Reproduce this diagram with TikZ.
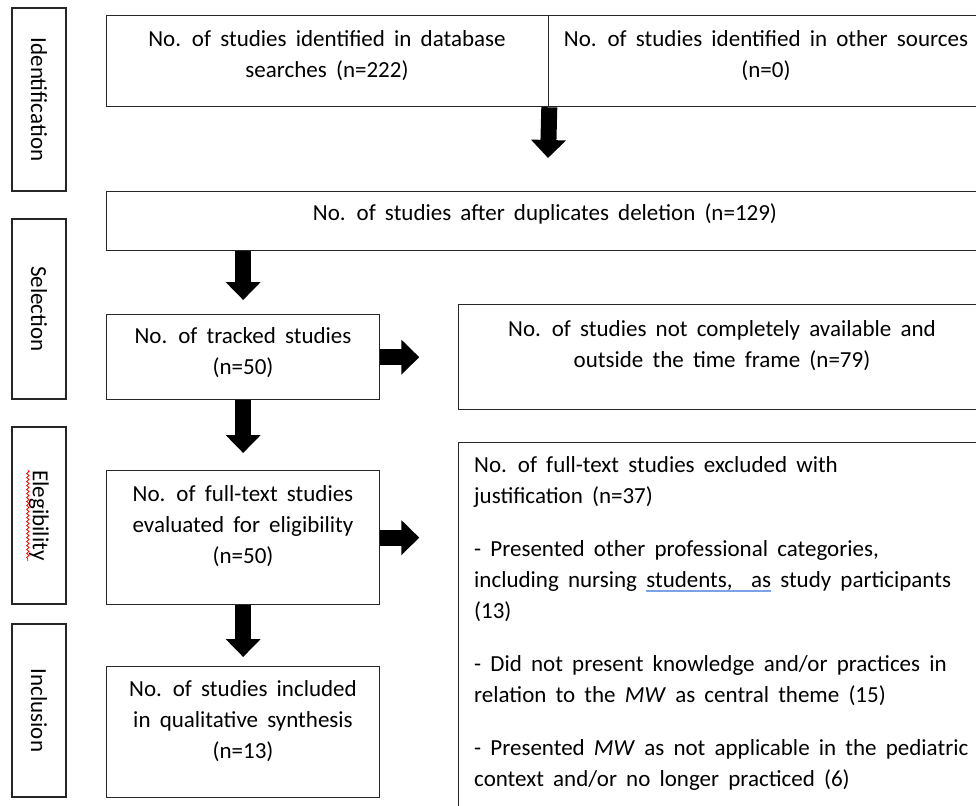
\documentclass[tikz,border=0pt]{standalone}
\usepackage{fontspec}
\setmainfont{Carlito}
\usetikzlibrary{arrows.meta,decorations.pathmorphing}
\definecolor{markblue}{RGB}{122,162,232}
\newcommand{\markword}[1]{\setbox0\hbox{#1}\rlap{\textcolor{markblue}{\rule[-5pt]{\wd0}{2.5pt}}}\box0\relax}
\newcommand{\boxfont}{\fontsize{23}{31}\selectfont\spaceskip=0.4em plus 0.1em\relax}

\tikzset{
  box/.style={draw=black!85, line width=1.3pt, anchor=north west, inner sep=0pt},
  stage/.style={draw=black!85, line width=1.3pt, inner sep=0pt, minimum width=54pt},
  txt/.style={align=center, font=\boxfont, inner sep=0pt},
  fat/.style={line width=16pt, -{Triangle[length=18pt,width=34pt]}},
}

\begin{document}
\begin{tikzpicture}[x=1pt,y=-1pt]
\useasboundingbox (0,0) rectangle (976,805);
\clip (0,0) rectangle (976,805);

\node[stage, minimum height=183pt] (identbox) at (39,99.5) {};
\node[stage, minimum height=180pt] (selbox) at (39,309) {};
\node[stage, minimum height=177pt] (eligbox) at (39,515.5) {};
\node[stage, minimum height=173pt] (inclbox) at (39,710.5) {};
\node[txt, rotate=-90] (identlbl) at (identbox.center) {Identification};
\node[txt, rotate=-90] (sellbl) at (selbox.center) {Selection};
\node[txt, rotate=-90] (eliglbl) at (eligbox.center) {Elegibility};
\node[txt, rotate=-90] (incllbl) at (inclbox.center) {Inclusion};
\draw[red, line width=0.8pt, decorate, decoration={snake, amplitude=1.2pt, segment length=4pt}]
  ([xshift=-1pt]eliglbl.south west) -- ([xshift=-1pt]eliglbl.south east);

\node[box, minimum width=442pt, minimum height=91pt] (dbsrc) at (106,15) {};
\node[box, minimum width=440pt, minimum height=91pt] (othersrc) at (548,15) {};
\node[box, minimum width=882pt, minimum height=59pt] (dedup) at (106,191) {};
\node[box, minimum width=273pt, minimum height=85pt] (tracked) at (106,314) {};
\node[box, minimum width=530pt, minimum height=105pt] (notavail) at (458,304) {};
\node[box, minimum width=273pt, minimum height=134pt] (fulltext) at (106,470) {};
\node[box, minimum width=530pt, minimum height=380pt] (excluded) at (458,442) {};
\node[box, minimum width=273pt, minimum height=131pt] (included) at (106,666) {};

\node[txt] (dbsrctxt) at (327,56) {No. of studies identified in database\\ searches (n=222)};
\node[txt] (othersrctxt) at (766,56) {No. of studies identified in other sources\\ (n=0)};
\node[txt] (deduptxt) at (545,214) {No. of studies after duplicates deletion (n=129)};
\node[txt] (trackedtxt) at (243,353) {No. of tracked studies\\ (n=50)};
\node[txt] (notavailtxt) at (722,346) {No. of studies not completely available and\\ outside the time frame (n=79)};
\node[txt] (fulltexttxt) at (243,526) {No. of full-text studies\\ evaluated for eligibility\\ (n=50)};
\node[txt] (includedtxt) at (243,721) {No. of studies included\\ in qualitative synthesis\\ (n=13)};
\node[txt, align=left, anchor=north west] (excludedtxt) at (474,456) {No. of full-text studies excluded with\\
  justification (n=37)\\[22pt]
  - Presented other professional categories,\\
  including nursing \markword{students,\ \ as} study participants\\
  (13)\\[22pt]
  - Did not present knowledge and/or practices in\\
  relation to the \textit{MW} as central theme (15)\\[22pt]
  - Presented \textit{MW} as not applicable in the pediatric\\
  context and/or no longer practiced (6)};

\coordinate (dbtip) at (548,158);
\draw[fat] (dbsrc.south east) -- (dbtip);
\draw[fat] (dedup.south -| tracked.north) -- ([yshift=14pt]tracked.north);
\draw[fat] (tracked.south) -- ([yshift=17pt]fulltext.north);
\draw[fat] (fulltext.south) -- ([yshift=9pt]included.north);
\draw[fat] (tracked.east) -- ([xshift=39pt]tracked.east);
\draw[fat] (fulltext.east) -- ([xshift=39pt]fulltext.east);
\end{tikzpicture}
\end{document}
